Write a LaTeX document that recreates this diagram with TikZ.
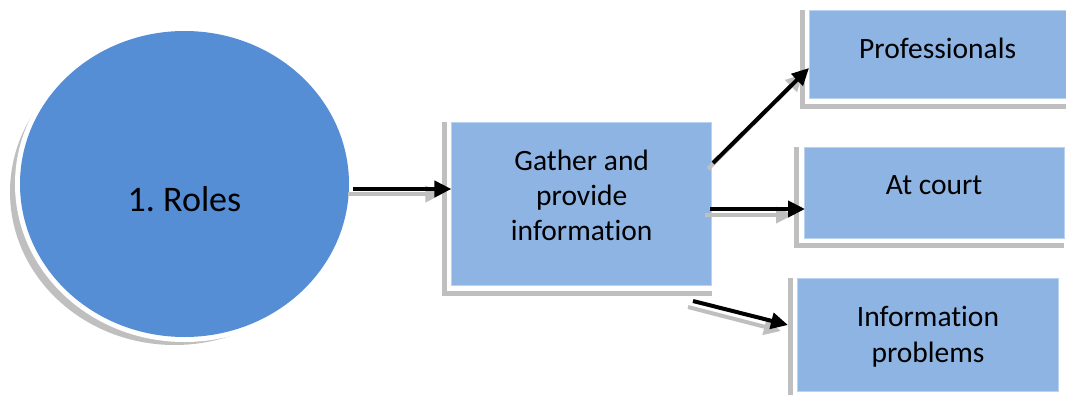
\documentclass[tikz,border=0pt]{standalone}
\usepackage{fontspec}
\setmainfont{Carlito}[Ligatures=NoCommon]
\frenchspacing
\usetikzlibrary{arrows.meta,shapes.geometric,backgrounds}
\definecolor{rolesblue}{HTML}{558ED5}
\definecolor{boxblue}{HTML}{8EB4E3}
\definecolor{shadowgrey}{HTML}{BFBFBF}
\tikzset{
  bx/.style={rectangle, fill=boxblue, draw=boxblue!60!white, line width=0.6pt, inner sep=0pt,
    align=center, font=\fontsize{29.5}{35.3}\selectfont},
  conn/.style={line width=4pt, -{Triangle[length=17pt,width=16pt]}},
  connshadow/.style={conn, shadowgrey},
}
\newcommand{\boxshadow}[1]{%
  \fill[shadowgrey] ([xshift=-9.5pt]#1.north west) rectangle ([yshift=-9.5pt]#1.south east);
  \fill[white] ([xshift=-4.5pt]#1.north west) rectangle ([yshift=-4.5pt]#1.south east);
}
\begin{document}
\begin{tikzpicture}[x=1pt,y=-1pt]
\useasboundingbox (0,0) rectangle (1066,394);
% circle
\fill[shadowgrey] (174.5,192) ellipse [x radius=164.5, y radius=153];
\fill[white] (184.5,184) ellipse [x radius=169.5, y radius=158];
\node[ellipse, fill=rolesblue, minimum width=329pt, minimum height=306pt, inner sep=0pt,
  font=\fontsize{36}{43}\selectfont, text height=55.4pt, text depth=0pt] (roles) at (184.5,184) {1.\ Roles};
% boxes
\node[bx, minimum width=260pt, minimum height=163pt, text height=73pt, text depth=0pt] (gather) at (581.7,204.2) {Gather and\\provide\\information};
\node[bx, minimum width=256.7pt, minimum height=88pt, text height=7.2pt, text depth=0pt] (prof) at (937.65,54.7) {Professionals};
\node[bx, minimum width=260pt, minimum height=90.3pt, text height=4pt, text depth=0pt] (court) at (934.15,192.85) {At court};
\node[bx, minimum width=260.6pt, minimum height=113.4pt, text height=54pt, text depth=0pt] (info) at (928,335) {Information\\problems};
\begin{pgfonlayer}{background}
\boxshadow{gather}
\boxshadow{prof}
\boxshadow{court}
\boxshadow{info}
\end{pgfonlayer}
% connector ends
\coordinate (a1s) at (353,189);
\coordinate (a2s) at (713,163);
\coordinate (a2e) at (809,68);
\coordinate (a3s) at (710,209);
\coordinate (a3e) at (805,209);
\coordinate (a4s) at (693,301);
\coordinate (a4e) at (788,325);
\coordinate (a1e) at (gather.west |- a1s);
% shadows of connectors
\draw[connshadow] ([shift={(-5pt,-5pt)}]a1s) -- ([shift={(-9pt,-5pt)}]a1e);
\draw[connshadow] ([shift={(-5pt,-6pt)}]a2s) -- ([shift={(-6pt,-6pt)}]a2e);
\draw[connshadow] ([shift={(-5pt,-6pt)}]a3s) -- ([shift={(-12pt,-6pt)}]a3e);
\draw[connshadow] ([shift={(-5pt,-6pt)}]a4s) -- ([shift={(-7pt,-6pt)}]a4e);
% connectors
\draw[conn] (a1s) -- (a1e);
\draw[conn] (a2s) -- (a2e);
\draw[conn] (a3s) -- (a3e);
\draw[conn] (a4s) -- (a4e);
\end{tikzpicture}
\end{document}
